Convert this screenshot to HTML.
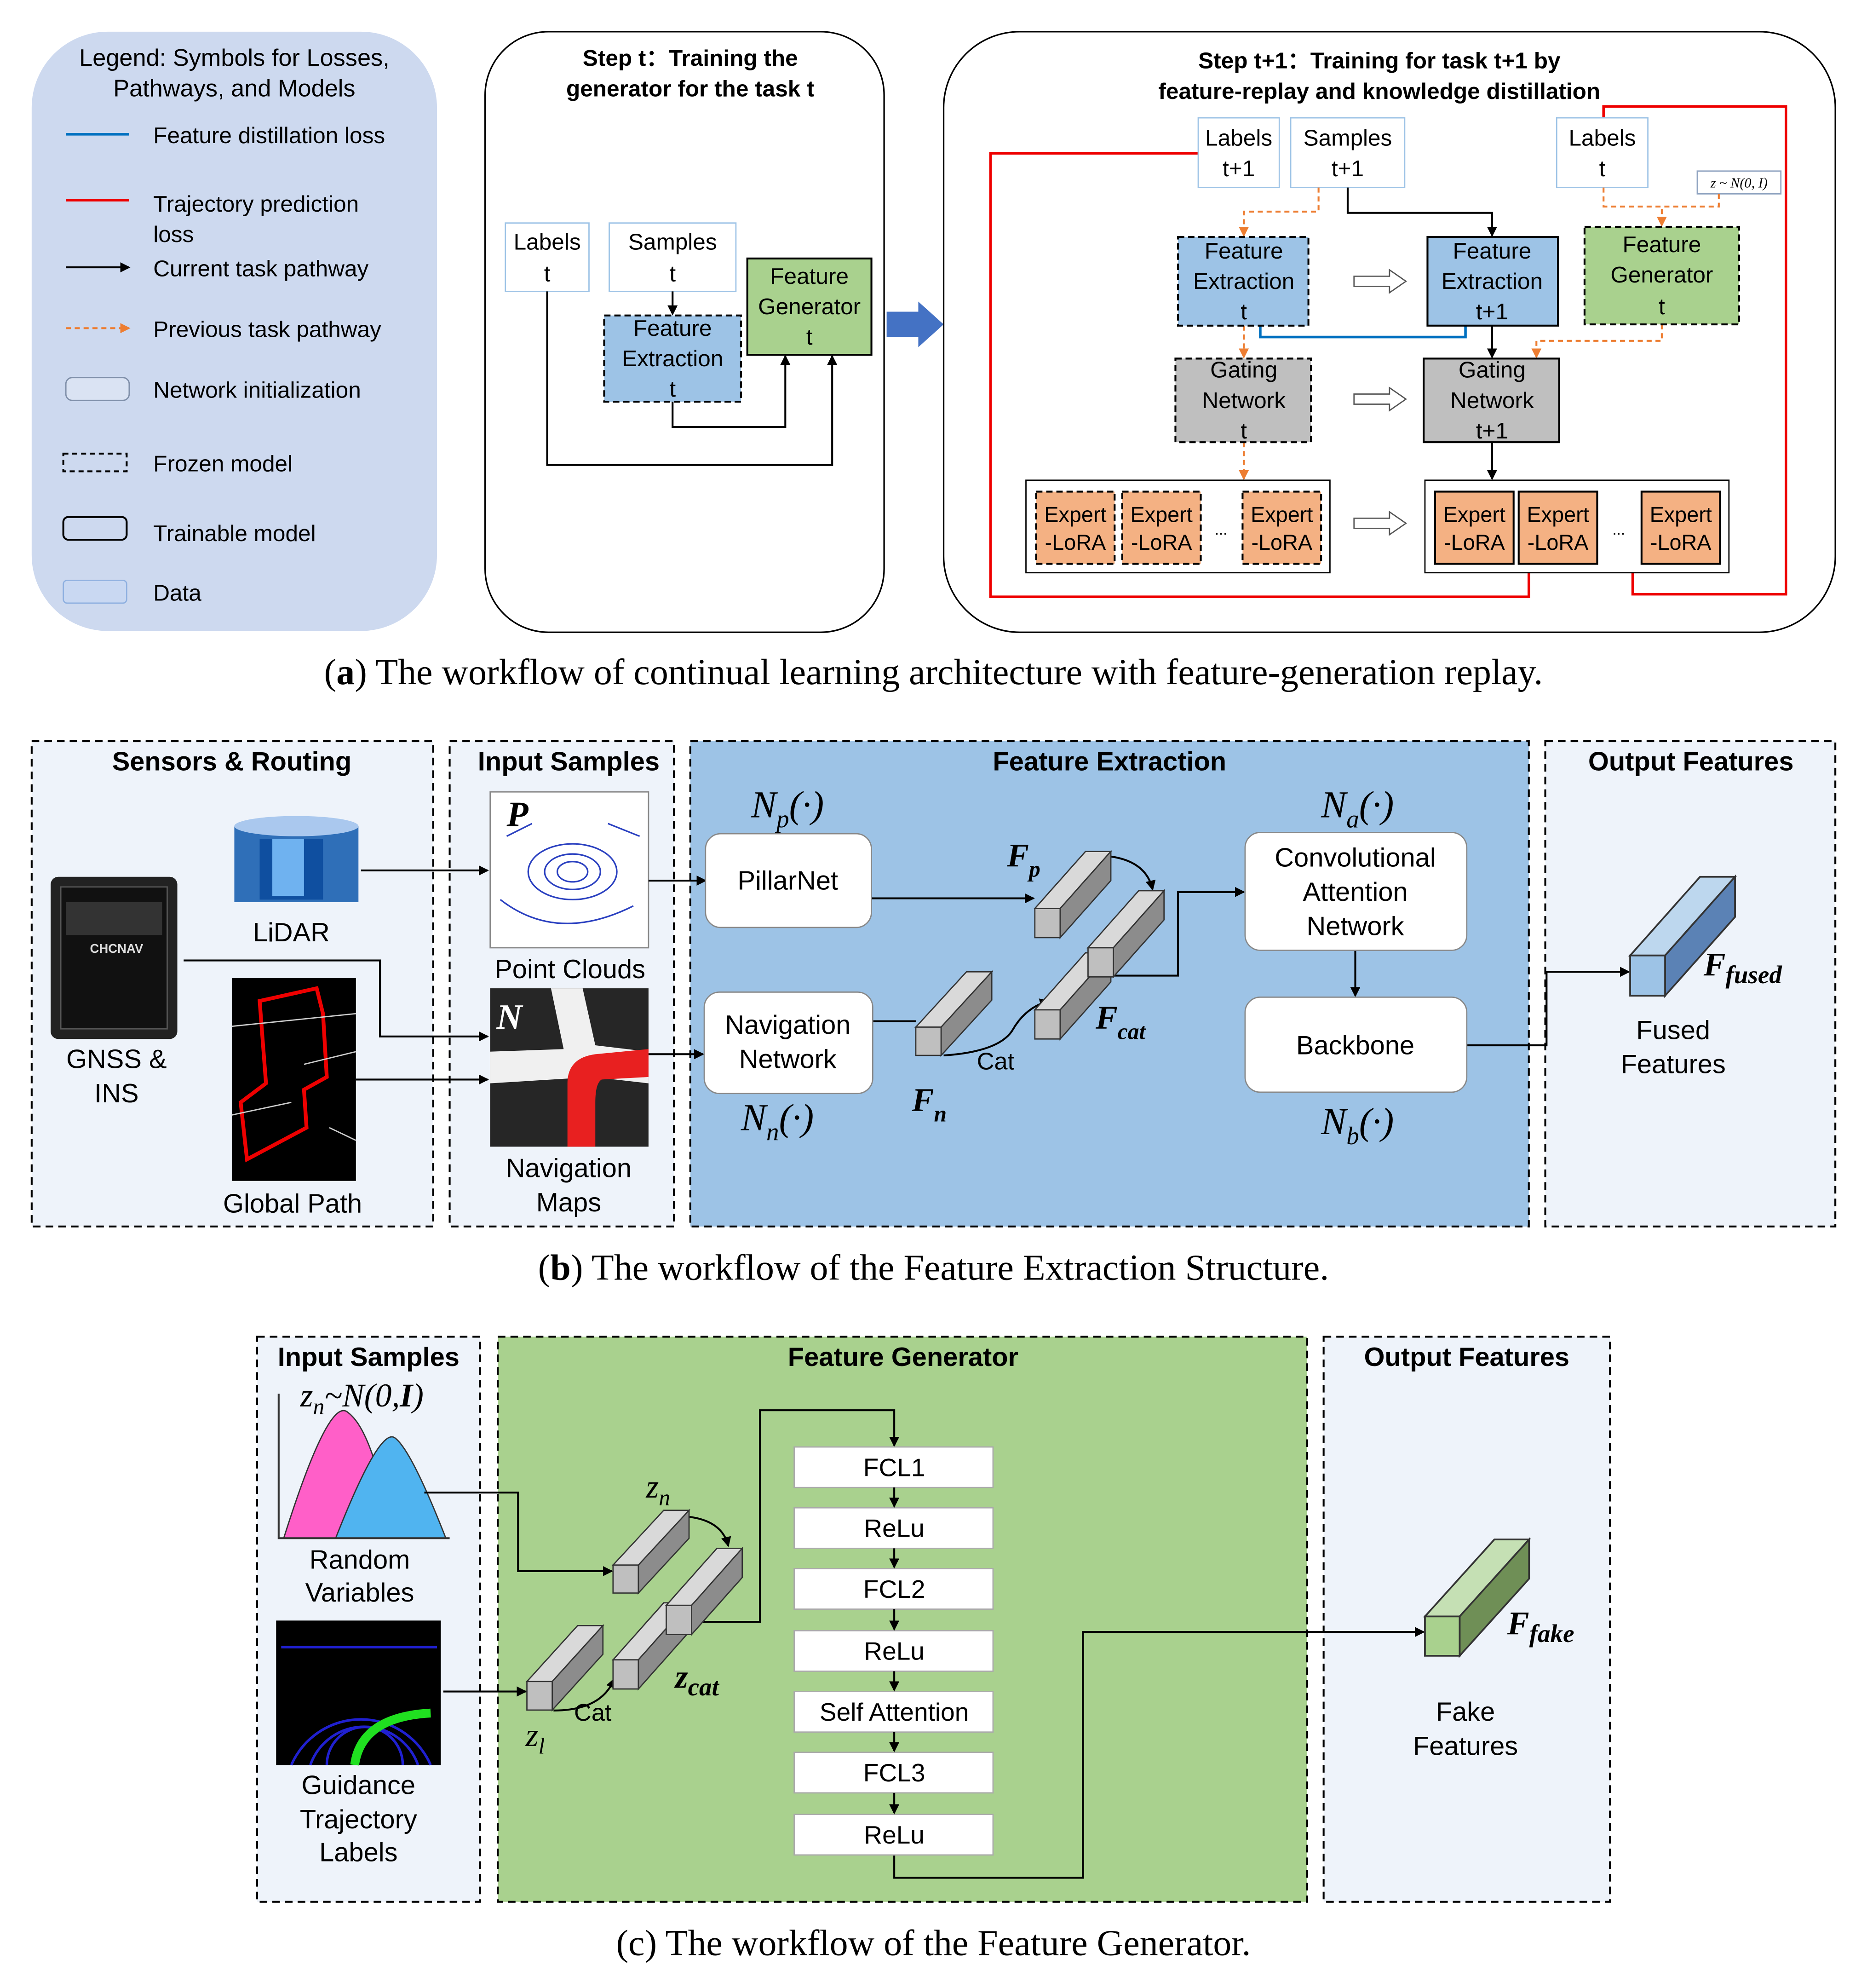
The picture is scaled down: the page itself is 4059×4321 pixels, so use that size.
<!DOCTYPE html>
<html><head><meta charset="utf-8"><style>html,body{margin:0;padding:0;background:#fff}svg{display:block}</style></head><body>
<svg xmlns="http://www.w3.org/2000/svg" width="4059" height="4321" viewBox="0 0 1474 1569" preserveAspectRatio="none" font-family="Liberation Sans, sans-serif">
<defs>
<marker id="ab" markerWidth="8" markerHeight="8" refX="7" refY="4" orient="auto" markerUnits="userSpaceOnUse"><path d="M0,0 L8,4 L0,8 z" fill="#000"/></marker>
<marker id="ao" markerWidth="8" markerHeight="8" refX="7" refY="4" orient="auto" markerUnits="userSpaceOnUse"><path d="M0,0 L8,4 L0,8 z" fill="#ed7d31"/></marker>
<g id="cg"><polygon points="0,45 20,45 60,0 40,0" fill="#d9d9d9" stroke="#333" stroke-width="1"/><polygon points="20,45 60,0 60,23 20,68" fill="#8c8c8c" stroke="#333" stroke-width="1"/><rect x="0" y="45" width="20" height="23" fill="#bfbfbf" stroke="#333" stroke-width="1"/></g>
<g id="cb"><polygon points="0,45 20,45 60,0 40,0" fill="#bdd7ee" stroke="#333" stroke-width="1"/><polygon points="20,45 60,0 60,23 20,68" fill="#5b82b5" stroke="#333" stroke-width="1"/><rect x="0" y="45" width="20" height="23" fill="#9dc3e6" stroke="#333" stroke-width="1"/></g>
<g id="cn"><polygon points="0,45 20,45 60,0 40,0" fill="#c5e0b4" stroke="#333" stroke-width="1"/><polygon points="20,45 60,0 60,23 20,68" fill="#6f8f56" stroke="#333" stroke-width="1"/><rect x="0" y="45" width="20" height="23" fill="#a9d18e" stroke="#333" stroke-width="1"/></g>
</defs>
<rect width="1474" height="1569" fill="#fff"/>
<g font-size="18" fill="#000">
<rect x="25" y="25" width="320" height="473" rx="60" fill="#cdd9ef"/>
<text x="185" y="52" text-anchor="middle" font-size="19">Legend: Symbols for Losses,</text>
<text x="185" y="76" text-anchor="middle" font-size="19">Pathways, and Models</text>
<line x1="52" y1="106" x2="102" y2="106" stroke="#0070c0" stroke-width="2"/><text x="121" y="113">Feature distillation loss</text>
<line x1="52" y1="158" x2="102" y2="158" stroke="#e00" stroke-width="2"/><text x="121" y="167">Trajectory prediction</text><text x="121" y="191">loss</text>
<line x1="52" y1="211" x2="102" y2="211" stroke="#000" stroke-width="1.5" marker-end="url(#ab)"/><text x="121" y="218">Current task pathway</text>
<line x1="52" y1="259" x2="102" y2="259" stroke="#ed7d31" stroke-width="1.5" stroke-dasharray="4,3" marker-end="url(#ao)"/><text x="121" y="266">Previous task pathway</text>
<rect x="52" y="298" width="50" height="18" rx="5" fill="#dae3f3" stroke="#7f8fa9"/><text x="121" y="314">Network initialization</text>
<rect x="50" y="358" width="50" height="14" fill="none" stroke="#000" stroke-dasharray="4,3" stroke-width="1.5"/><text x="121" y="372">Frozen model</text>
<rect x="50" y="408" width="50" height="18" rx="4" fill="none" stroke="#000" stroke-width="1.5"/><text x="121" y="427">Trainable model</text>
<rect x="50" y="458" width="50" height="18" rx="3" fill="#c9d8f2" stroke="#8fb0e0"/><text x="121" y="474">Data</text>

<rect x="383" y="25" width="315" height="474" rx="50" fill="#fff" stroke="#000" stroke-width="1.2"/>
<text x="545" y="52" text-anchor="middle" font-weight="bold">Step t：Training the</text>
<text x="545" y="76" text-anchor="middle" font-weight="bold">generator for the  task t</text>
<rect x="399" y="176" width="66" height="54" fill="#fff" stroke="#9dc3e6"/><text x="432" y="197" text-anchor="middle">Labels</text><text x="432" y="222" text-anchor="middle">t</text>
<rect x="481" y="176" width="100" height="54" fill="#fff" stroke="#9dc3e6"/><text x="531" y="197" text-anchor="middle">Samples</text><text x="531" y="222" text-anchor="middle">t</text>
<rect x="477" y="249" width="108" height="68" fill="#9dc3e6" stroke="#000" stroke-dasharray="5,3" stroke-width="1.5"/><text x="531" y="265" text-anchor="middle">Feature</text><text x="531" y="289" text-anchor="middle">Extraction</text><text x="531" y="313" text-anchor="middle">t</text>
<rect x="590" y="204" width="98" height="76" fill="#a9d18e" stroke="#000" stroke-width="1.5"/><text x="639" y="224" text-anchor="middle">Feature</text><text x="639" y="248" text-anchor="middle">Generator</text><text x="639" y="272" text-anchor="middle">t</text>
<g fill="none" stroke="#000" stroke-width="1.5">
<path d="M531,230 V248" marker-end="url(#ab)"/>
<path d="M432,230 V367 H657 V281" marker-end="url(#ab)"/>
<path d="M531,317 V337 H620 V281" marker-end="url(#ab)"/>
</g>
<polygon points="700,246 725,246 725,238 745,256 725,274 725,266 700,266" fill="#4472c4"/>

<rect x="745" y="25" width="704" height="474" rx="60" fill="#fff" stroke="#000" stroke-width="1.2"/>
<text x="1089" y="54" text-anchor="middle" font-weight="bold">Step t+1：Training for task t+1 by</text>
<text x="1089" y="78" text-anchor="middle" font-weight="bold">feature-replay and  knowledge distillation</text>
<g fill="none" stroke-width="2">
<path d="M946,121 H782 V471 H1207 V452" stroke="#e00"/>
<path d="M1289,452 V469 H1410 V84 H1266 V93" stroke="#e00"/>
<path d="M995,257 V266 H1157 V257" stroke="#0070c0"/>
</g>
<rect x="946" y="93" width="64" height="55" fill="#fff" stroke="#9dc3e6"/><text x="978" y="115" text-anchor="middle">Labels</text><text x="978" y="139" text-anchor="middle">t+1</text>
<rect x="1019" y="93" width="90" height="55" fill="#fff" stroke="#9dc3e6"/><text x="1064" y="115" text-anchor="middle">Samples</text><text x="1064" y="139" text-anchor="middle">t+1</text>
<rect x="1229" y="93" width="72" height="55" fill="#fff" stroke="#9dc3e6"/><text x="1265" y="115" text-anchor="middle">Labels</text><text x="1265" y="139" text-anchor="middle">t</text>
<rect x="1340" y="135" width="66" height="18" fill="#fff" stroke="#8fa3c0"/><text x="1373" y="148" text-anchor="middle" font-size="11" font-style="italic" font-family="Liberation Serif, serif">z ~ N(0, I)</text>
<g fill="none" stroke-width="1.5">
<path d="M1064,148 V168 H1178 V186" stroke="#000" marker-end="url(#ab)"/>
<path d="M1178,257 V282" stroke="#000" marker-end="url(#ab)"/>
<path d="M1178,349 V378" stroke="#000" marker-end="url(#ab)"/>
<g stroke="#ed7d31" stroke-dasharray="4,3">
<path d="M1041,148 V167 H982 V186" marker-end="url(#ao)"/>
<path d="M982,257 V282" marker-end="url(#ao)"/>
<path d="M982,349 V378" marker-end="url(#ao)"/>
<path d="M1266,148 V163 H1312 V178" marker-end="url(#ao)"/>
<path d="M1357,153 V163 H1312"/>
<path d="M1312,256 V269 H1213 V282" marker-end="url(#ao)"/>
</g></g>
<rect x="930" y="187" width="103" height="70" fill="#9dc3e6" stroke="#000" stroke-dasharray="5,3" stroke-width="1.5"/><text x="982" y="204" text-anchor="middle">Feature</text><text x="982" y="228" text-anchor="middle">Extraction</text><text x="982" y="252" text-anchor="middle">t</text>
<rect x="1127" y="187" width="103" height="70" fill="#9dc3e6" stroke="#000" stroke-width="1.5"/><text x="1178" y="204" text-anchor="middle">Feature</text><text x="1178" y="228" text-anchor="middle">Extraction</text><text x="1178" y="252" text-anchor="middle">t+1</text>
<rect x="1251" y="179" width="122" height="77" fill="#a9d18e" stroke="#000" stroke-dasharray="5,3" stroke-width="1.5"/><text x="1312" y="199" text-anchor="middle">Feature</text><text x="1312" y="223" text-anchor="middle">Generator</text><text x="1312" y="248" text-anchor="middle">t</text>
<rect x="928" y="283" width="107" height="66" fill="#bfbfbf" stroke="#000" stroke-dasharray="5,3" stroke-width="1.5"/><text x="982" y="298" text-anchor="middle">Gating</text><text x="982" y="322" text-anchor="middle">Network</text><text x="982" y="346" text-anchor="middle">t</text>
<rect x="1124" y="283" width="107" height="66" fill="#bfbfbf" stroke="#000" stroke-width="1.5"/><text x="1178" y="298" text-anchor="middle">Gating</text><text x="1178" y="322" text-anchor="middle">Network</text><text x="1178" y="346" text-anchor="middle">t+1</text>
<rect x="810" y="379" width="240" height="73" fill="#fff" stroke="#000"/>
<rect x="1125" y="379" width="240" height="73" fill="#fff" stroke="#000"/>
<g font-size="17">
<rect x="818" y="388" width="62" height="57" fill="#f4b183" stroke="#000" stroke-dasharray="5,3" stroke-width="1.5"/><text x="849" y="412" text-anchor="middle">Expert</text><text x="849" y="434" text-anchor="middle">-LoRA</text>
<rect x="886" y="388" width="62" height="57" fill="#f4b183" stroke="#000" stroke-dasharray="5,3" stroke-width="1.5"/><text x="917" y="412" text-anchor="middle">Expert</text><text x="917" y="434" text-anchor="middle">-LoRA</text>
<rect x="981" y="388" width="62" height="57" fill="#f4b183" stroke="#000" stroke-dasharray="5,3" stroke-width="1.5"/><text x="1012" y="412" text-anchor="middle">Expert</text><text x="1012" y="434" text-anchor="middle">-LoRA</text>
<text x="964" y="422" text-anchor="middle" font-size="12">...</text>
<rect x="1133" y="388" width="62" height="57" fill="#f4b183" stroke="#000" stroke-width="1.5"/><text x="1164" y="412" text-anchor="middle">Expert</text><text x="1164" y="434" text-anchor="middle">-LoRA</text>
<rect x="1199" y="388" width="62" height="57" fill="#f4b183" stroke="#000" stroke-width="1.5"/><text x="1230" y="412" text-anchor="middle">Expert</text><text x="1230" y="434" text-anchor="middle">-LoRA</text>
<rect x="1296" y="388" width="62" height="57" fill="#f4b183" stroke="#000" stroke-width="1.5"/><text x="1327" y="412" text-anchor="middle">Expert</text><text x="1327" y="434" text-anchor="middle">-LoRA</text>
<text x="1278" y="422" text-anchor="middle" font-size="12">...</text>
</g>
<g fill="#fff" stroke="#555" stroke-width="1">
<polygon points="1069,218 1097,218 1097,213 1110,222 1097,231 1097,226 1069,226"/>
<polygon points="1069,311 1097,311 1097,306 1110,315 1097,324 1097,319 1069,319"/>
<polygon points="1069,409 1097,409 1097,404 1110,413 1097,422 1097,417 1069,417"/>
</g>
<text x="737" y="540" text-anchor="middle" font-size="29" font-family="Liberation Serif, serif">(<tspan font-weight="bold">a</tspan>) The workflow of continual learning architecture with feature-generation replay.</text>

<g stroke="#000" stroke-dasharray="6,4" stroke-width="1.5">
<rect x="25" y="585" width="317" height="383" fill="#eef3fa"/>
<rect x="355" y="585" width="177" height="383" fill="#eef3fa"/>
<rect x="545" y="585" width="662" height="383" fill="#9dc3e6"/>
<rect x="1220" y="585" width="229" height="383" fill="#eef3fa"/>
</g>
<g font-size="21" text-anchor="middle" font-weight="bold">
<text x="183" y="608">Sensors &amp; Routing</text><text x="449" y="608">Input Samples</text><text x="876" y="608">Feature  Extraction</text><text x="1335" y="608">Output Features</text>
</g>
<rect x="40" y="692" width="100" height="128" rx="6" fill="#222"/><rect x="48" y="700" width="84" height="112" fill="#111" stroke="#555"/>
<text x="92" y="752" text-anchor="middle" font-size="10" fill="#ddd" font-weight="bold">CHCNAV</text>
<rect x="52" y="712" width="76" height="26" fill="#333"/>
<text x="92" y="843" text-anchor="middle" font-size="21">GNSS &amp;</text><text x="92" y="870" text-anchor="middle" font-size="21">INS</text>
<rect x="185" y="652" width="98" height="60" fill="#2f6fb8"/><ellipse cx="234" cy="652" rx="49" ry="8" fill="#aac8ee"/><rect x="205" y="662" width="50" height="48" fill="#0f4fa0"/><rect x="215" y="662" width="25" height="45" fill="#6fb2f0"/>
<text x="230" y="743" text-anchor="middle" font-size="21">LiDAR</text>
<rect x="183" y="772" width="98" height="160" fill="#000"/>
<path d="M205,790 L250,780 L255,800 L258,850 L240,860 L242,890 L195,915 L190,870 L210,855 Z" fill="none" stroke="#e00" stroke-width="3"/>
<path d="M183,810 L281,800 M240,840 L281,830 M183,880 L230,870 M260,890 L281,900" stroke="#ccc" stroke-width="1"/>
<text x="231" y="957" text-anchor="middle" font-size="21">Global Path</text>
<rect x="387" y="625" width="125" height="123" fill="#fff" stroke="#888"/>
<g fill="none" stroke="#2a40c0" stroke-width="1.2"><ellipse cx="452" cy="688" rx="12" ry="8"/><ellipse cx="452" cy="688" rx="22" ry="14"/><ellipse cx="452" cy="688" rx="35" ry="22"/><path d="M395,710 Q440,745 500,715"/><path d="M400,660 L420,650 M480,650 L505,660"/></g>
<text x="400" y="652" font-size="28" font-weight="bold" font-style="italic" font-family="Liberation Serif, serif">P</text>
<text x="450" y="772" text-anchor="middle" font-size="21">Point Clouds</text>
<rect x="387" y="780" width="125" height="125" fill="#262626"/>
<path d="M435,780 L460,780 L470,825 L512,830 L512,855 L468,850 L387,855 L387,830 L445,828 Z" fill="#f0f0f0"/>
<path d="M448,905 L448,855 Q448,835 470,832 L512,828 L512,850 L475,852 Q470,855 470,870 L470,905 Z" fill="#e82020"/>
<text x="392" y="812" font-size="28" font-weight="bold" font-style="italic" fill="#fff" font-family="Liberation Serif, serif">N</text>
<text x="449" y="929" text-anchor="middle" font-size="21">Navigation</text><text x="449" y="956" text-anchor="middle" font-size="21">Maps</text>
<g fill="none" stroke="#000" stroke-width="1.5">
<path d="M285,687 H385" marker-end="url(#ab)"/>
<path d="M145,758 H300 V818 H385" marker-end="url(#ab)"/>
<path d="M281,852 H385" marker-end="url(#ab)"/>
<path d="M512,695 H557" marker-end="url(#ab)"/>
<path d="M512,832 H555" marker-end="url(#ab)"/>
<path d="M688,709 H816" marker-end="url(#ab)"/>
<path d="M689,806 H723"/>
<path d="M745,833 Q790,830 800,812 Q810,795 828,790" marker-end="url(#ab)"/>
<path d="M877,770 H930 V704 H982" marker-end="url(#ab)"/>
<path d="M1070,750 V786" marker-end="url(#ab)"/>
<path d="M1158,825 H1221 V767 H1286" marker-end="url(#ab)"/>
<path d="M877,676 Q905,680 910,702" marker-end="url(#ab)"/>
</g>
<rect x="557" y="658" width="131" height="74" rx="12" fill="#fff" stroke="#888"/><text x="622" y="702" text-anchor="middle" font-size="21">PillarNet</text>
<rect x="556" y="783" width="133" height="80" rx="12" fill="#fff" stroke="#888"/><text x="622" y="816" text-anchor="middle" font-size="21">Navigation</text><text x="622" y="843" text-anchor="middle" font-size="21">Network</text>
<rect x="983" y="657" width="175" height="93" rx="12" fill="#fff" stroke="#888"/><text x="1070" y="684" text-anchor="middle" font-size="21">Convolutional</text><text x="1070" y="711" text-anchor="middle" font-size="21">Attention</text><text x="1070" y="738" text-anchor="middle" font-size="21">Network</text>
<rect x="983" y="787" width="175" height="75" rx="12" fill="#fff" stroke="#888"/><text x="1070" y="832" text-anchor="middle" font-size="21">Backbone</text>
<use href="#cg" transform="translate(817,672)"/>
<use href="#cg" transform="translate(723,767) scale(1,0.97)"/>
<use href="#cg" transform="translate(817,752)"/>
<use href="#cg" transform="translate(859,703)"/>
<use href="#cb" transform="translate(1287,692) scale(1.38)"/>
<g font-family="Liberation Serif, serif" font-style="italic" font-size="30">
<text x="593" y="645">N<tspan font-size="20" dy="8">p</tspan><tspan dy="-8">(·)</tspan></text>
<text x="1043" y="645">N<tspan font-size="20" dy="8">a</tspan><tspan dy="-8">(·)</tspan></text>
<text x="585" y="892">N<tspan font-size="20" dy="8">n</tspan><tspan dy="-8">(·)</tspan></text>
<text x="1043" y="895">N<tspan font-size="20" dy="8">b</tspan><tspan dy="-8">(·)</tspan></text>
<text x="795" y="684" font-weight="bold" font-size="26">F<tspan font-size="18" dy="8">p</tspan></text>
<text x="720" y="877" font-weight="bold" font-size="26">F<tspan font-size="18" dy="8">n</tspan></text>
<text x="865" y="812" font-weight="bold" font-size="26">F<tspan font-size="18" dy="8">cat</tspan></text>
<text x="1345" y="770" font-weight="bold" font-size="26">F<tspan font-size="20" dy="6">fused</tspan></text>
</g>
<text x="786" y="844" text-anchor="middle" font-size="19">Cat</text>
<text x="1321" y="820" text-anchor="middle" font-size="21">Fused</text><text x="1321" y="847" text-anchor="middle" font-size="21">Features</text>
<text x="737" y="1010" text-anchor="middle" font-size="29" font-family="Liberation Serif, serif">(<tspan font-weight="bold">b</tspan>) The workflow of the Feature Extraction Structure.</text>

<g stroke="#000" stroke-dasharray="6,4" stroke-width="1.5">
<rect x="203" y="1055" width="176" height="446" fill="#eef3fa"/>
<rect x="393" y="1055" width="639" height="446" fill="#a9d18e"/>
<rect x="1045" y="1055" width="226" height="446" fill="#eef3fa"/>
</g>
<g font-size="21" text-anchor="middle" font-weight="bold">
<text x="291" y="1078">Input Samples</text><text x="713" y="1078">Feature  Generator</text><text x="1158" y="1078">Output Features</text>
</g>
<path d="M224,1214 Q260,1100 275,1115 Q295,1130 310,1214 Z" fill="#ff5fc8" stroke="#333"/>
<path d="M265,1214 Q300,1125 312,1135 Q325,1145 352,1214 Z" fill="#50b4f0" stroke="#333"/>
<path d="M220,1100 V1214 H355" fill="none" stroke="#333" stroke-width="1.5"/>
<text x="237" y="1110" font-size="26" font-style="italic" font-family="Liberation Serif, serif">z<tspan font-size="18" dy="6">n</tspan><tspan dy="-6">~N(0,</tspan><tspan font-weight="bold">I</tspan>)</text>
<text x="284" y="1238" text-anchor="middle" font-size="21">Random</text><text x="284" y="1264" text-anchor="middle" font-size="21">Variables</text>
<rect x="218" y="1279" width="130" height="114" fill="#000"/>
<g fill="none" stroke="#2020d0" stroke-width="2"><path d="M230,1393 A60,60 0 0 1 340,1393"/><path d="M245,1393 A45,45 0 0 1 330,1393"/><path d="M258,1393 A30,30 0 0 1 318,1393"/><path d="M222,1300 H345"/></g>
<path d="M280,1393 Q285,1355 340,1352" fill="none" stroke="#20e020" stroke-width="7"/>
<text x="283" y="1416" text-anchor="middle" font-size="21">Guidance</text><text x="283" y="1443" text-anchor="middle" font-size="21">Trajectory</text><text x="283" y="1469" text-anchor="middle" font-size="21">Labels</text>
<g fill="none" stroke="#000" stroke-width="1.5">
<path d="M335,1178 H409 V1240 H483" marker-end="url(#ab)"/>
<path d="M350,1335 H415" marker-end="url(#ab)"/>
<path d="M545,1280 H600 V1113 H706 V1141" marker-end="url(#ab)"/>
<path d="M706,1464 V1482 H855 V1288 H1124" marker-end="url(#ab)"/>
<path d="M543,1197 Q570,1200 575,1220" marker-end="url(#ab)"/>
<path d="M437,1350 Q475,1350 485,1325" marker-end="url(#ab)"/>
</g>
<use href="#cg" transform="translate(484,1192) scale(1,0.96)"/>
<use href="#cg" transform="translate(416,1283) scale(1,0.98)"/>
<use href="#cg" transform="translate(484,1265)"/>
<use href="#cg" transform="translate(526,1222)"/>
<use href="#cn" transform="translate(1125,1215) scale(1.37,1.35)"/>
<g font-size="20" text-anchor="middle">
<rect x="627" y="1142" width="157" height="32" fill="#fff" stroke="#aaa"/><text x="706" y="1165">FCL1</text>
<rect x="627" y="1190" width="157" height="32" fill="#fff" stroke="#aaa"/><text x="706" y="1213">ReLu</text>
<rect x="627" y="1238" width="157" height="32" fill="#fff" stroke="#aaa"/><text x="706" y="1261">FCL2</text>
<rect x="627" y="1287" width="157" height="32" fill="#fff" stroke="#aaa"/><text x="706" y="1310">ReLu</text>
<rect x="627" y="1335" width="157" height="32" fill="#fff" stroke="#aaa"/><text x="706" y="1358">Self Attention</text>
<rect x="627" y="1383" width="157" height="32" fill="#fff" stroke="#aaa"/><text x="706" y="1406">FCL3</text>
<rect x="627" y="1432" width="157" height="32" fill="#fff" stroke="#aaa"/><text x="706" y="1455">ReLu</text>
</g>
<g fill="none" stroke="#000" stroke-width="1.5">
<path d="M706,1174 V1189" marker-end="url(#ab)"/><path d="M706,1222 V1237" marker-end="url(#ab)"/><path d="M706,1270 V1286" marker-end="url(#ab)"/><path d="M706,1319 V1334" marker-end="url(#ab)"/><path d="M706,1367 V1382" marker-end="url(#ab)"/><path d="M706,1415 V1431" marker-end="url(#ab)"/>
</g>
<g font-family="Liberation Serif, serif" font-style="italic" font-size="26">
<text x="510" y="1182">z<tspan font-size="18" dy="6">n</tspan></text>
<text x="415" y="1378">z<tspan font-size="18" dy="6">l</tspan></text>
<text x="533" y="1332" font-weight="bold">z<tspan font-size="20" dy="6">cat</tspan></text>
<text x="1190" y="1290" font-weight="bold">F<tspan font-size="20" dy="6">fake</tspan></text>
</g>
<text x="468" y="1358" text-anchor="middle" font-size="19">Cat</text>
<text x="1157" y="1358" text-anchor="middle" font-size="21">Fake</text><text x="1157" y="1385" text-anchor="middle" font-size="21">Features</text>
<text x="737" y="1543" text-anchor="middle" font-size="29" font-family="Liberation Serif, serif">(c) The workflow of the Feature Generator.</text>
</g>
</svg>
</body></html>
